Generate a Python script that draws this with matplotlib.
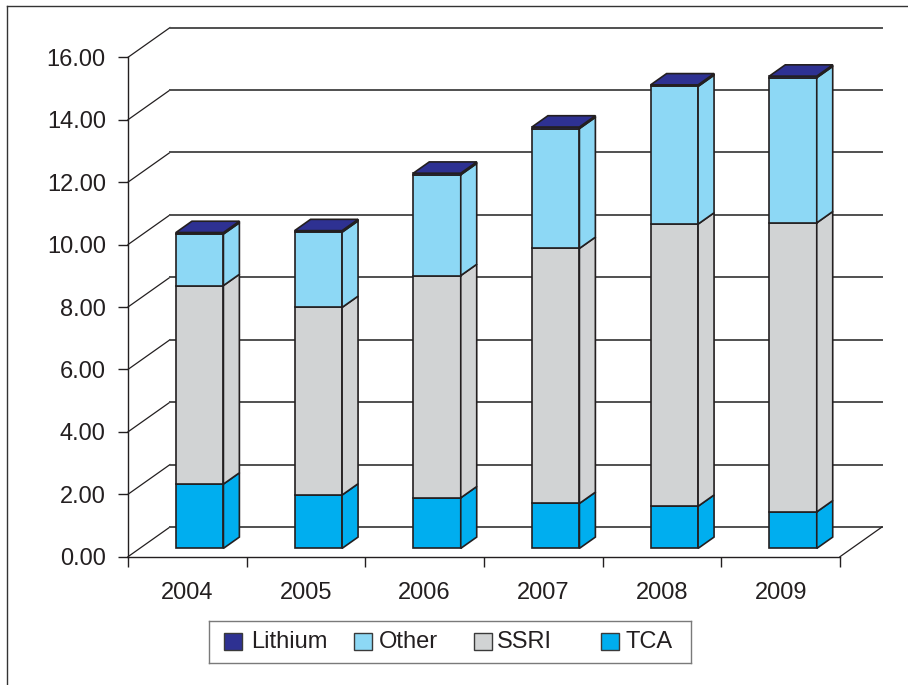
import matplotlib.pyplot as plt
from matplotlib.patches import Polygon, Rectangle
from matplotlib.lines import Line2D

plt.rcParams['font.family'] = ['Liberation Sans', 'DejaVu Sans']

# données (empilées de bas en haut)
annees = ["2004", "2005", "2006", "2007", "2008", "2009"]
tca = [2.06, 1.71, 1.62, 1.44, 1.35, 1.17]
ssri = [6.36, 6.01, 7.12, 8.17, 9.04, 9.26]
other = [1.65, 2.41, 3.23, 3.84, 4.41, 4.65]
lithium = [0.05, 0.05, 0.05, 0.05, 0.05, 0.05]
series = [("TCA", tca), ("SSRI", ssri), ("Other", other), ("Lithium", lithium)]
couleurs = {"Lithium": "#2e3192", "Other": "#8dd8f5", "SSRI": "#d1d3d4", "TCA": "#00aeef"}
yticks = [0, 2, 4, 6, 8, 10, 12, 14, 16]

ink = "#231f20"
W, H = 908, 685
fs = 17

# décalage de profondeur (effet 3D) en unités des axes
DX = 0.354
DY = 0.952
z0, z1 = 0.28, 0.66  # profondeur avant / arrière des barres

fig = plt.figure(figsize=(W / 100, H / 100), dpi=100)
ax = fig.add_axes([128 / W, (H - 556.7) / H, 712 / W, 499.4 / H])
ax.set_xlim(0, 6)
ax.set_ylim(0, 16)
ax.patch.set_visible(False)

def proj(x, v, z):
    return (x + z * DX, v + z * DY)

# mur du fond : grille + diagonales
for v in yticks:
    ax.plot([0, DX], [v, v + DY], color=ink, lw=0.9, clip_on=False, zorder=1)
    ax.plot([DX, 6 + DX], [v + DY, v + DY], color="#505050", lw=1.4, clip_on=False, zorder=1)
# côté droit du sol
ax.plot([6, 6 + DX], [0, DY], color=ink, lw=0.9, clip_on=False, zorder=1)

# barres empilées en pseudo 3D
for i in range(len(annees)):
    x0, x1 = i + 0.305, i + 0.705
    bas = 0
    for k, (nom, vals) in enumerate(series):
        haut = bas + vals[i]
        c = couleurs[nom]
        face = [proj(x0, bas, z0), proj(x1, bas, z0), proj(x1, haut, z0), proj(x0, haut, z0)]
        cote = [proj(x1, bas, z0), proj(x1, bas, z1), proj(x1, haut, z1), proj(x1, haut, z0)]
        ax.add_patch(Polygon(face, closed=True, fc=c, ec=ink, lw=1.2, clip_on=False, zorder=3))
        ax.add_patch(Polygon(cote, closed=True, fc=c, ec=ink, lw=1.2, clip_on=False, zorder=3))
        if k == len(series) - 1:
            dessus = [proj(x0, haut, z0), proj(x1, haut, z0), proj(x1, haut, z1), proj(x0, haut, z1)]
            ax.add_patch(Polygon(dessus, closed=True, fc=c, ec=ink, lw=1.2, clip_on=False, zorder=3))
        bas = haut

# axes
for s in ["top", "right"]:
    ax.spines[s].set_visible(False)
ax.spines["left"].set_color(ink)
ax.spines["bottom"].set_color(ink)
ax.spines["left"].set_linewidth(1.0)
ax.spines["bottom"].set_linewidth(1.0)
ax.set_yticks(yticks)
ax.set_yticklabels(["%.2f" % v for v in yticks])
ax.tick_params(axis="y", direction="out", length=7, width=1.0, color=ink,
               labelsize=fs, labelcolor=ink, pad=9)
ax.set_xticks(range(7))
ax.set_xticklabels([])
ax.tick_params(axis="x", which="major", direction="out", length=7, width=1.0, color=ink)
ax.set_xticks([i + 0.5 for i in range(6)], minor=True)
ax.set_xticklabels(annees, minor=True)
ax.tick_params(axis="x", which="minor", length=0, labelsize=fs, labelcolor=ink, pad=18)

# légende
lg = fig.add_axes([209 / W, (H - 663) / H, 482 / W, 42 / H])
lg.set_xlim(0, 482)
lg.set_ylim(42, 0)
lg.set_xticks([])
lg.set_yticks([])
for s in lg.spines.values():
    s.set_color("#7a7a7a")
    s.set_linewidth(1.0)
pos_carre = [15, 145, 265, 392]
pos_texte = [42, 170, 288, 416]
for j, nom in enumerate(["Lithium", "Other", "SSRI", "TCA"]):
    lg.add_patch(Rectangle((pos_carre[j], 12), 18, 17, fc=couleurs[nom], ec="#3a3a3a", lw=1.0))
    lg.text(pos_texte[j], 21, nom, fontsize=fs, color=ink, va="center", ha="left")

# cadre extérieur
fig.add_artist(Line2D([7 / W, 1], [1 - 6 / H, 1 - 6 / H], color="#333333", lw=1.0))
fig.add_artist(Line2D([7 / W, 7 / W], [0, 1 - 6 / H], color="#333333", lw=1.0))

plt.savefig("out.png", dpi=100)
